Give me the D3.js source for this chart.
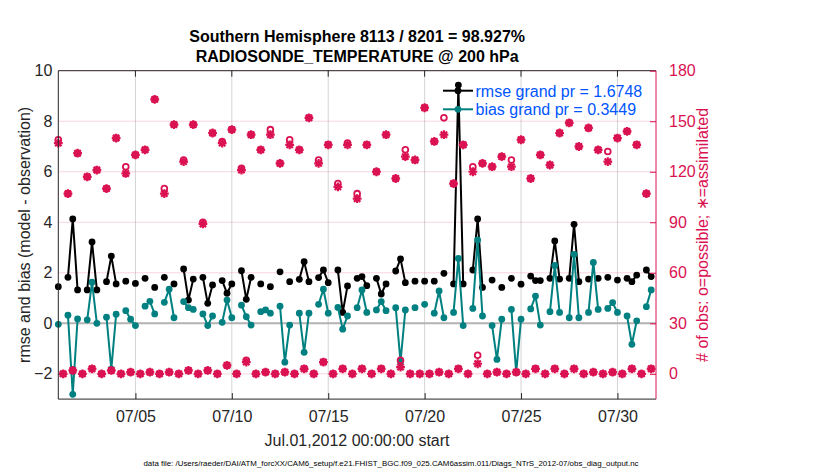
<!DOCTYPE html>
<html><head><meta charset="utf-8">
<script src="https://cdn.jsdelivr.net/npm/d3@7"></script>
<style>body{margin:0;background:#fff} text{font-family:"Liberation Sans",Arial,Helvetica,sans-serif}</style>
</head><body><svg id="c" width="830" height="470"></svg>
<script>
// 6-hourly values starting Jul.01,2012 00:00 UTC (null = no value)
const rmse = [1.45,null,1.82,4.13,1.32,null,1.32,3.22,1.32,null,1.65,2.66,1.56,null,1.67,null,1.58,null,1.78,null,
1.42,null,1.82,null,1.56,null,2.15,0.92,1.75,null,1.82,0.79,1.52,null,1.69,1.19,1.56,null,2.08,0.95,
1.82,null,1.56,null,1.45,null,2.04,null,1.65,null,1.74,2.44,1.65,null,1.81,2.11,1.61,null,2.11,0.43,
1.48,null,1.78,1.85,1.49,null,1.78,1.16,1.56,null,2.07,2.55,1.61,null,1.67,null,1.67,null,1.67,null,
1.98,null,1.56,9.43,1.56,null,2.11,4.13,1.42,null,1.71,null,1.42,null,1.78,null,1.55,null,1.87,1.69,
1.69,null,1.78,3.26,1.75,null,1.78,3.92,1.65,null,1.75,null,1.78,null,1.82,null,1.71,null,1.78,1.65,
1.91,null,2.11,1.85];
const bias = [-0.04,null,0.32,-2.81,0.17,null,0.14,1.63,0.00,null,0.24,-1.81,0.36,null,0.50,0.16,-0.09,null,0.68,0.87,
0.37,null,0.83,1.35,0.22,null,0.86,0.62,0.55,null,0.37,-0.09,0.29,null,0.04,0.92,0.22,null,0.72,0.26,
-0.07,null,0.46,0.53,0.40,null,0.68,-1.54,-0.07,null,0.40,-1.15,0.40,null,0.75,1.35,0.40,null,0.63,-0.23,
0.29,null,0.62,1.32,0.43,null,0.53,0.86,0.50,null,0.62,-1.52,0.53,null,0.62,null,0.75,null,0.40,1.28,
0.22,null,0.43,2.57,-0.09,null,0.59,3.30,0.29,null,-0.09,-1.43,0.16,null,0.55,-1.94,0.16,null,0.57,1.08,
-0.07,null,0.46,2.29,0.43,null,0.22,2.73,0.22,null,0.43,2.41,0.55,null,0.59,0.82,0.43,null,0.29,-0.83,
0.10,null,0.66,1.32];
const possible = [139,0,107,2,131,0,117,3,121,0,110,2,140,0,123,1,130,0,133,1,
163,0,110,1,148,0,127,2,148,0,90,2,143,0,138,5,145,0,122,8,
142,0,133,1,145,0,125,1,139,0,133,3,152,0,127,7,136,0,113,3,
137,0,107,3,136,0,120,3,142,0,116,8,133,0,127,0,158,0,138,1,
152,0,113,3,136,0,123,11,125,0,123,1,129,0,127,1,139,0,116,3,
130,0,124,3,143,0,149,3,135,0,146,1,133,0,132,1,140,0,144,3,
136,0,107,3];
const assimilated = [137,0,107,2,131,0,117,3,121,0,110,2,140,0,119,1,130,0,133,1,
163,0,107,1,148,0,126,2,148,0,89,2,143,0,137,5,145,0,121,7,
142,0,133,1,142,0,125,1,136,0,133,3,152,0,125,7,136,0,111,3,
136,0,104,3,136,0,120,3,142,0,116,4,129,0,127,0,158,0,138,1,
142,0,113,3,136,0,120,6,125,0,123,1,129,0,123,1,139,0,116,3,
130,0,124,3,143,0,149,3,135,0,146,1,133,0,126,1,140,0,144,3,
136,0,107,3];
const xTickLabels = ["07/05","07/10","07/15","07/20","07/25","07/30"];
const yLeftTicks = [-2,0,2,4,6,8,10];
const yRightTicks = [0,30,60,90,120,150,180];
const titleLines = ["Southern Hemisphere 8113 / 8201 = 98.927%","RADIOSONDE_TEMPERATURE @ 200 hPa"];
const legendLabels = ["rmse grand pr = 1.6748","bias grand pr = 0.3449"];
const xLabel = "Jul.01,2012 00:00:00 start";
const yLabelLeft = "rmse and bias (model - observation)";
const yLabelRight = "# of obs: o=possible; \u2217=assimilated";
const footer = "data file: /Users/raeder/DAI/ATM_forcXX/CAM6_setup/f.e21.FHIST_BGC.f09_025.CAM6assim.011/Diags_NTrS_2012-07/obs_diag_output.nc";

const start = new Date(Date.UTC(2012,6,1));
const end = new Date(Date.UTC(2012,7,1));
const times = rmse.map((_,i)=>d3.utcHour.offset(start, 6*i));
const xTicks = xTickLabels.map(s=>{const [m,d]=s.split("/").map(Number);return new Date(Date.UTC(2012,m-1,d));});

const L=58.3, R=656, T=70.7, B=399.1;
const x = d3.scaleUtc().domain([start,end]).range([L,R]);
const y = d3.scaleLinear().domain([-3,10]).range([B,T]);
const y2 = d3.scaleLinear().domain([-15,180]).range([B,T]);

const CR = "rgb(218,18,82)", TEAL="#008080";
const svg = d3.select("#c");

// grid
svg.append("g").selectAll("line").data(xTicks).join("line")
  .attr("x1",d=>x(d)).attr("x2",d=>x(d)).attr("y1",T).attr("y2",B)
  .attr("stroke","#d4d4d4").attr("stroke-width",1);
svg.append("g").selectAll("line").data(yRightTicks).join("line")
  .attr("x1",L).attr("x2",R).attr("y1",d=>y2(d)).attr("y2",d=>y2(d))
  .attr("stroke","rgba(220,20,80,0.18)").attr("stroke-width",1);
// zero line
svg.append("line").attr("x1",L).attr("x2",R).attr("y1",y(0)).attr("y2",y(0))
  .attr("stroke","#b3b3b3").attr("stroke-width",2);

function series(vals,color){
  const pts = vals.map((v,i)=>({t:times[i],v}));
  const line = d3.line().defined(d=>d.v!==null).x(d=>x(d.t)).y(d=>y(d.v));
  svg.append("path").attr("d",line(pts)).attr("fill","none").attr("stroke",color)
    .attr("stroke-width",2).attr("stroke-linejoin","round");
  svg.append("g").selectAll("circle").data(pts.filter(d=>d.v!==null)).join("circle")
    .attr("cx",d=>x(d.t)).attr("cy",d=>y(d.v)).attr("r",3.4).attr("fill",color);
}
series(rmse,"#000");
series(bias,TEAL);

// counts
const ast = s=>{const k=s*0.72;return `M${-s},0L${s},0M0,${-s}L0,${s}M${-k},${-k}L${k},${k}M${-k},${k}L${k},${-k}`;};
svg.append("g").selectAll("circle").data(possible.map((v,i)=>({t:times[i],v}))).join("circle")
  .attr("cx",d=>x(d.t)).attr("cy",d=>y2(d.v)).attr("r",2.9)
  .attr("fill","none").attr("stroke",CR).attr("stroke-width",1.8);
svg.append("g").selectAll("path").data(assimilated.map((v,i)=>({t:times[i],v}))).join("path")
  .attr("transform",d=>`translate(${x(d.t)},${y2(d.v)})`).attr("d",ast(4.4))
  .attr("fill","none").attr("stroke",CR).attr("stroke-width",2.2);

// axes frame
svg.append("line").attr("x1",L).attr("x2",R).attr("y1",T).attr("y2",T).attr("stroke","#262626");
svg.append("line").attr("x1",L).attr("x2",R).attr("y1",B).attr("y2",B).attr("stroke","#262626");
svg.append("line").attr("x1",L).attr("x2",L).attr("y1",T).attr("y2",B).attr("stroke","#262626");
svg.append("line").attr("x1",R).attr("x2",R).attr("y1",T).attr("y2",B).attr("stroke",CR);

// x ticks
const gx = svg.append("g").attr("transform",`translate(0,${B})`)
  .call(d3.axisBottom(x).tickValues(xTicks).tickFormat((d,i)=>xTickLabels[i]).tickSize(-6).tickPadding(12));
gx.select(".domain").remove();
gx.selectAll("line").attr("stroke","#262626");
gx.selectAll("text").attr("font-size",16).attr("fill","#262626").attr("font-family","Liberation Sans, Arial, sans-serif");
svg.append("g").selectAll("line").data(xTicks).join("line")
  .attr("x1",d=>x(d)).attr("x2",d=>x(d)).attr("y1",T).attr("y2",T+6).attr("stroke","#262626");

// left y axis
const gy = svg.append("g").attr("transform",`translate(${L},0)`)
  .call(d3.axisLeft(y).tickValues(yLeftTicks).tickFormat(d3.format("d")).tickSize(0).tickPadding(6));
gy.select(".domain").remove();
gy.selectAll("text").attr("font-size",16).attr("fill","#262626").attr("font-family","Liberation Sans, Arial, sans-serif");

// right y axis
const gr = svg.append("g").attr("transform",`translate(${R},0)`)
  .call(d3.axisRight(y2).tickValues(yRightTicks).tickSize(-6).tickPadding(13));
gr.select(".domain").remove();
gr.selectAll("line").attr("stroke",CR);
gr.selectAll("text").attr("font-size",16).attr("fill",CR).attr("font-family","Liberation Sans, Arial, sans-serif");

// legend
const legY=[90.7,109.3], legC=["#000",TEAL];
legendLabels.forEach((s,i)=>{
  svg.append("line").attr("x1",443).attr("x2",473).attr("y1",legY[i]).attr("y2",legY[i])
    .attr("stroke",legC[i]).attr("stroke-width",2);
  svg.append("circle").attr("cx",458).attr("cy",legY[i]).attr("r",3.4).attr("fill",legC[i]);
  svg.append("text").attr("x",475.5).attr("y",legY[i]+5.8).attr("font-size",16)
    .attr("fill","rgb(0,85,255)").text(s);
});

// titles & labels
titleLines.forEach((s,i)=>{
  svg.append("text").attr("x",(L+R)/2).attr("y",42+i*20).attr("text-anchor","middle")
    .attr("font-size",16).attr("font-weight","bold").attr("fill","#000").text(s);
});
svg.append("text").attr("x",357).attr("y",446).attr("text-anchor","middle")
  .attr("font-size",16).attr("fill","#262626").text(xLabel);
svg.append("text").attr("transform",`translate(30,${(T+B)/2}) rotate(-90)`).attr("text-anchor","middle")
  .attr("font-size",16).attr("fill","#262626").text(yLabelLeft);
svg.append("text").attr("transform",`translate(708,${(T+B)/2}) rotate(-90)`).attr("text-anchor","middle")
  .attr("font-size",16).attr("fill",CR).text(yLabelRight);
svg.append("text").attr("x",391).attr("y",466).attr("text-anchor","middle")
  .attr("font-size",7.9).attr("fill","#000").text(footer);
</script></body></html>
